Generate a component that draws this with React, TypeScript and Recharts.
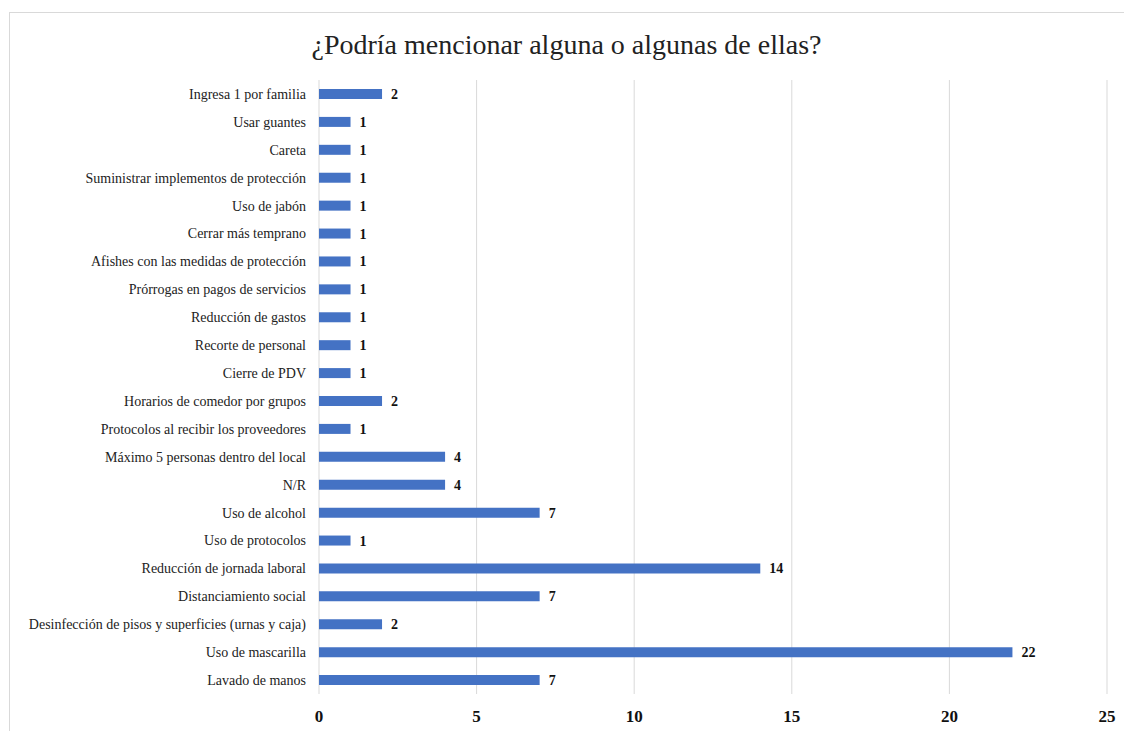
import React from 'react';
import { BarChart, Bar, XAxis, YAxis, CartesianGrid, LabelList } from 'recharts';

const categories = [
  'Ingresa 1 por familia',
  'Usar guantes',
  'Careta',
  'Suministrar implementos de protección ',
  'Uso de jabón ',
  'Cerrar más temprano',
  'Afishes con las medidas de protección',
  'Prórrogas en pagos de servicios',
  'Reducción de gastos',
  'Recorte de personal',
  'Cierre de PDV',
  'Horarios de comedor por grupos',
  'Protocolos al recibir los proveedores',
  'Máximo 5 personas dentro del local',
  'N/R',
  'Uso de alcohol',
  'Uso de protocolos',
  'Reducción de jornada laboral',
  'Distanciamiento social',
  'Desinfección de pisos y superficies (urnas y caja)',
  'Uso de mascarilla',
  'Lavado de manos',
];

const counts = [2, 1, 1, 1, 1, 1, 1, 1, 1, 1, 1, 2, 1, 4, 4, 7, 1, 14, 7, 2, 22, 7];

const xTicks = [0, 5, 10, 15, 20, 25];

const data = categories.map((name, i) => ({ name, value: counts[i] }));

const FONT = "'Liberation Serif', 'Times New Roman', Times, 'DejaVu Serif', serif";

export default function App() {
  return (
    <div style={{ position: 'absolute', left: 0, top: 0, width: 1124, height: 731, background: '#fff', fontFamily: FONT }}>
      {/* chart frame, only top and left edges are visible in the crop */}
      <div
        style={{
          position: 'absolute',
          left: 9,
          top: 12,
          width: 1115,
          height: 719,
          borderTop: '1px solid #d9d9d9',
          borderLeft: '1px solid #d9d9d9',
        }}
      />
      <div
        style={{
          position: 'absolute',
          left: 9,
          width: 1115,
          top: 26,
          textAlign: 'center',
          fontSize: 28,
          color: '#222',
          lineHeight: '38px',
          fontFamily: FONT,
        }}
      >
        ¿Podría mencionar alguna o algunas de ellas?
      </div>
      <div style={{ position: 'absolute', left: 0, top: 0, fontFamily: FONT }}>
        <BarChart
          width={1124}
          height={731}
          data={data}
          layout="vertical"
          margin={{ top: 80, right: 17, bottom: 7, left: 0 }}
          barCategoryGap={0}
          style={{ fontFamily: FONT }}
        >
          <CartesianGrid horizontal={false} vertical stroke="#d9d9d9" strokeWidth={1} />
          <XAxis
            type="number"
            domain={[0, 25]}
            ticks={xTicks}
            axisLine={false}
            tickLine={false}
            height={30}
            tickMargin={10}
            tick={{ fontSize: 17, fontWeight: 'bold', fill: '#111', fontFamily: FONT }}
          />
          <YAxis
            type="category"
            dataKey="name"
            width={319}
            axisLine={false}
            tickLine={false}
            tickMargin={7}
            interval={0}
            tick={{ fontSize: 14, fill: '#222', fontFamily: FONT }}
          />
          <Bar dataKey="value" fill="#4472C4" barSize={10} isAnimationActive={false}>
            <LabelList
              dataKey="value"
              position="right"
              offset={9}
              style={{ fontSize: 14, fontWeight: 'bold', fill: '#111', fontFamily: FONT }}
            />
          </Bar>
        </BarChart>
      </div>
    </div>
  );
}
